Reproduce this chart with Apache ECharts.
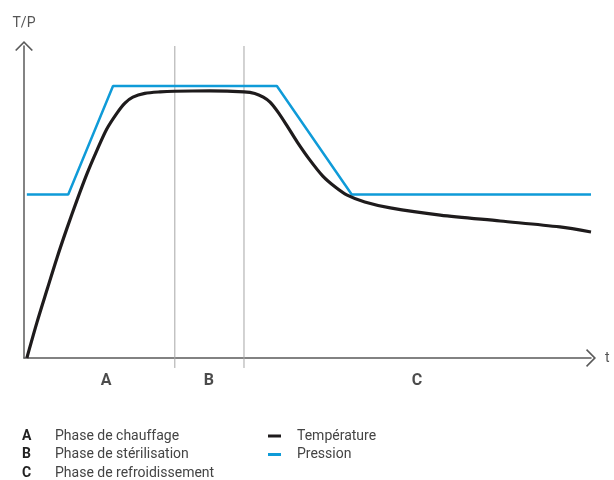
<!DOCTYPE html>
<html>
<head>
<meta charset="utf-8">
<script src="https://cdn.jsdelivr.net/npm/echarts@6/dist/echarts.min.js"></script>
<style>html,body{margin:0;padding:0;background:#fff}#c{width:614px;height:480px}</style>
</head>
<body>
<div id="c"></div>
<script>
// Data (time t: 0..100, level v: 0..100, arbitrary units)
const pressionT = [0.5, 7.8, 15.7, 44.6, 57.8, 100];
const pressionV = [52.4, 52.4, 87.2, 87.2, 52.4, 52.4];
const temperatureT = [0.5, 2.3, 4.1, 5.8, 7.6, 9.35, 11.1, 12.9, 14.6, 16.4, 17.8, 19.2, 21.3, 24.0, 26.6, 32.8, 38.8, 40.7, 42.2, 43.4, 44.8, 46.4, 48.2, 50.4, 52.7, 54.9, 57.0, 60.1, 64.6, 73.4, 84.0, 94.5, 100];
const temperatureV = [0, 11.5, 22.1, 32.0, 41.7, 50.6, 59.0, 66.7, 73.4, 78.5, 81.7, 83.6, 84.8, 85.3, 85.5, 85.6, 85.3, 84.8, 83.6, 82.0, 78.8, 74.4, 69.2, 63.5, 58.3, 54.8, 52.2, 50.0, 48.1, 45.8, 43.9, 42.0, 40.4];
const phaseBounds = [26.6, 38.8];
const phaseLetters = ['A', 'B', 'C'];
const phaseLabelT = [14.5, 32.6, 69.3];
const phaseNames = ['Phase de chauffage', 'Phase de stérilisation', 'Phase de refroidissement'];
const seriesNames = ['Température', 'Pression'];

const FONT = 'Roboto';
const chart = echarts.init(document.getElementById('c'), null, {renderer: 'canvas'});

const zip = (a, b) => a.map((x, i) => [x, b[i]]);
const chevron = 'path://M0,10 L10,0 L20,10 L18.6,11.2 L10,2.6 L1.4,11.2 Z';

const series = [];
phaseBounds.forEach(b => {
  series.push({
    type: 'line', data: [[b, -3.2], [b, 100]], clip: false, symbol: 'none', silent: true,
    lineStyle: {color: '#a6a6a6', width: 1}, z: 1
  });
});
series.push({
  name: seriesNames[1], type: 'line', data: zip(pressionT, pressionV), symbol: 'none',
  lineStyle: {color: '#0f9bd8', width: 2.5}, itemStyle: {color: '#0f9bd8'}, z: 3, clip: false
});
series.push({
  name: seriesNames[0], type: 'line', data: zip(temperatureT, temperatureV), symbol: 'none',
  smooth: 0.3,
  lineStyle: {color: '#1e1b1c', width: 3.2}, itemStyle: {color: '#1e1b1c'}, z: 4, clip: false
});
series.push({
  type: 'scatter', data: phaseLabelT.map((t, i) => [t, -7.4, phaseLetters[i]]), symbolSize: 0, clip: false, silent: true,
  label: {show: true, position: 'inside', formatter: p => p.data[2], fontFamily: FONT, fontWeight: 'bold', fontSize: 16, color: '#1e1e1e'}
});

chart.setOption({
  animation: false,
  textStyle: {fontFamily: FONT},
  grid: {left: 24, right: 23, top: 46, bottom: 122, containLabel: false},
  xAxis: {
    type: 'value', min: 0, max: 100, name: 't', nameLocation: 'end', nameGap: 14,
    nameTextStyle: {color: '#555', fontSize: 14, fontFamily: FONT, verticalAlign: 'middle'},
    axisLine: {show: true, lineStyle: {color: '#5a5a5a', width: 1.5}, symbol: ['none', chevron], symbolSize: [18, 10], symbolOffset: [0, 0]},
    axisTick: {show: false}, axisLabel: {show: false}, splitLine: {show: false}
  },
  yAxis: {
    type: 'value', min: 0, max: 100, name: 'T/P', nameLocation: 'end', nameGap: 16,
    nameTextStyle: {color: '#555', fontSize: 14, fontFamily: FONT, align: 'center'},
    axisLine: {show: true, lineStyle: {color: '#5a5a5a', width: 1.5}, symbol: ['none', chevron], symbolSize: [18, 10], symbolOffset: [0, 0]},
    axisTick: {show: false}, axisLabel: {show: false}, splitLine: {show: false}
  },
  title: {
    left: 22, top: 427, padding: 0,
    text: phaseLetters.map((l, i) => '{k|' + l + '}{v|' + phaseNames[i] + '}').join('\n'),
    textStyle: {
      fontWeight: 'normal',
      rich: {
        k: {fontFamily: FONT, fontWeight: 'bold', fontSize: 14, color: '#222', width: 33, lineHeight: 18.5},
        v: {fontFamily: FONT, fontWeight: 'normal', fontSize: 14, color: '#444', lineHeight: 18.5}
      }
    }
  },
  legend: {
    orient: 'vertical', left: 268, top: 429, padding: 0, itemGap: 4.5,
    itemWidth: 13, itemHeight: 3, icon: 'rect',
    data: seriesNames,
    textStyle: {fontFamily: FONT, fontSize: 14, color: '#444', lineHeight: 14, padding: [0, 0, 0, 11]},
    selectedMode: false
  },
  series: series
});
</script>
</body>
</html>
